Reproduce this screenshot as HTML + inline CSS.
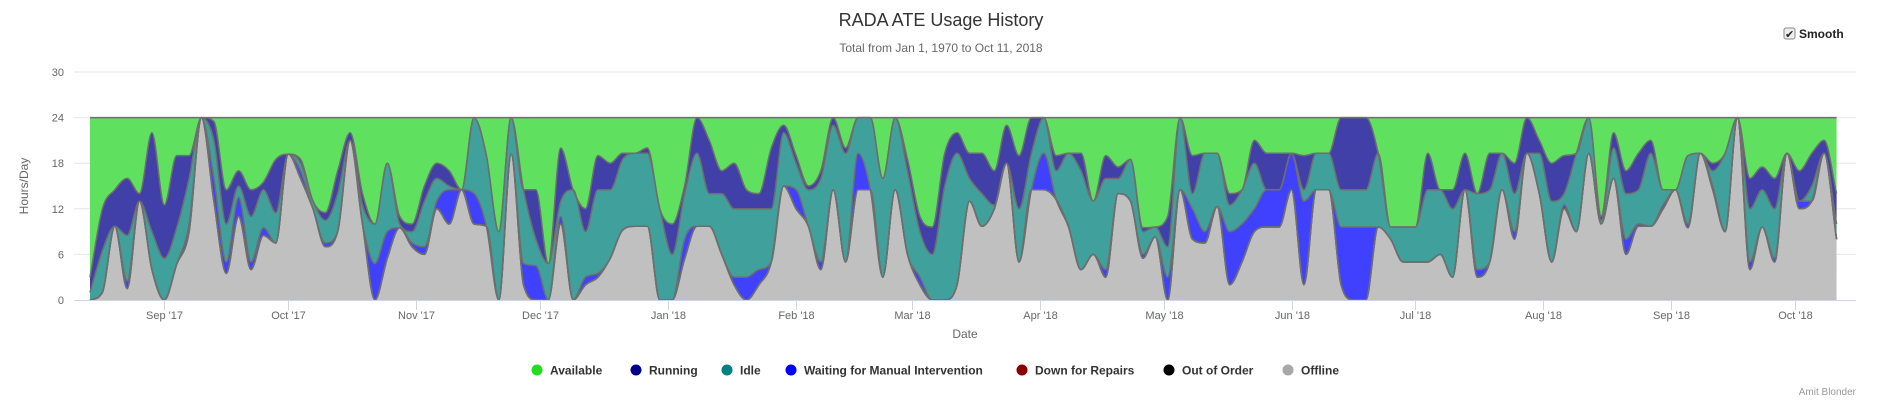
<!DOCTYPE html>
<html><head><meta charset="utf-8"><style>
html,body{margin:0;padding:0;background:#fff;}
body{width:1882px;height:408px;overflow:hidden;font-family:"Liberation Sans",sans-serif;}
</style></head><body>
<svg id="chart" width="1882" height="408" xmlns="http://www.w3.org/2000/svg" font-family="Liberation Sans, sans-serif">
<text x="941" y="26" text-anchor="middle" font-size="18" fill="#333">RADA ATE Usage History</text>
<text x="941" y="52" text-anchor="middle" font-size="12" fill="#666">Total from Jan 1, 1970 to Oct 11, 2018</text>
<g>
<rect x="1784" y="28" width="11" height="11" rx="2" fill="#eee" stroke="#888"/>
<text x="1785" y="38" font-size="11" fill="#222">✔</text>
<text x="1799" y="38" font-size="12" font-weight="bold" fill="#222">Smooth</text>
</g>
<g id="grid"></g>
<g id="areas"></g>
<g id="axes"></g>
<g id="legend"></g>
<text x="1856" y="395" text-anchor="end" font-size="10" fill="#999">Amit Blonder</text>
</svg>
<script>
const startDate = new Date(2017, 7, 14);
const stepDays = 3;
const offline = [0,1,9.7,1.5,13,4,0,4.7,9,24,13,3.5,11,4,8.5,7.5,19.2,16,12,7,9,21,10,0,5.5,9.5,7,6,12,10,14.5,10,9.7,0,19.2,2,0,0,10,0,2,3,5.5,9.2,9.7,9.7,0,0,5.4,9.7,9.7,6,2,0,2,5,15,12,9.7,4,14.5,5,14.5,14.5,3,14.5,6,2,0,0,2,13,9.7,12,18,5,14.5,14.5,13.2,9.6,4,6,3,14,13,5.5,8.3,0,14.5,8,7.5,12.3,2,5,9,9.6,9.6,14.5,2,14.5,14.5,2,0,0,9.6,8,5,5,5,6,3,14.5,3,5,14.5,8,19.3,14,5,12,9,19.3,10,16,6,9.7,9.7,12,14.5,9.5,19.3,14.5,9,24,4,9.6,5,19.3,12,13,19.3,8];
const outOfOrder = offline.map(()=>0);
const downForRepairs = offline.map(()=>0);
const waiting = [0,0,0,1,0,0,0,0,1,0,3,1.5,2.5,1,1,0,0,1,0,0.5,0,0,0,4.8,3.5,0,0.5,1,1,4.5,0,4,0,0,0,2.8,4.5,0,1,0,1,0.5,0,0,0,0,0,0,2.6,0,0,0,1,3,2,0,0,2.5,0,1,0,0,4.8,0,0,0,0,1,0,0,0,0,0,0,0,0,0,4.8,0,0,0,0,1,0,0,0.5,0,3,0,4,1.5,0,7,5,3,4.9,4.9,4.8,11,0,0,7.6,9.6,9.6,0,0,0,0,0,0,0,0,1,0,0,1,0,0,0,0.5,0,0,0,0,2,0.3,0,0.5,0,0.5,0,0.5,0,0,1,0,0.5,0,1,0,0,0];
const idle = [1,5.5,0,6,0,5,5.5,4.8,6,0,5,5,1.5,6,5,4,0,1,1,3,5,0,2.5,5.2,9,0.5,1.5,6,3,0.5,0,10,9.3,9,4.8,9.7,3.5,4.8,2,14.5,6,11,9,9.3,9.6,9.6,12,6,6,9.6,4.3,8,9,9,8,7,7,3.5,4.8,11,8.5,14.3,4.7,9.5,13,9.5,11,6,6,15,17.3,3,4.3,0.5,0,7,4.8,4.7,3.8,9.7,13,7,12,2,5.5,3,1.3,4,9.5,2,10.3,7,3.5,4.5,6,0,0,0,1.5,4.8,4.8,4.9,4.9,4.9,9.7,1.6,4.6,4.6,9.5,8.5,9,0,10,9.5,4.8,5,0,5.3,8,1.5,10.3,4.7,0.5,4,6,4.5,9.6,2,0,9,0,2,10.3,0,7,4.9,6.5,0,0,2,0,2];
const running = [2,5.5,4.8,7.5,1,13,7,9.5,3,0,2.5,4.5,2,3.5,1,7,0,0.5,0,1,3,1,1.5,0,0,1,1,2,2,2,0,0,0,0,0,0,6.5,0,7,0,3,4.5,3.5,0.8,0,0.7,0,4,1,4.7,7,3,6,2.5,2,8,1,1,0.5,1,1,0.7,0,0,0,0,1.5,2,3.6,4.3,2.7,3.3,5.3,4.5,5,7,4.7,0,2,0,2.3,0,3,1.5,0,0.5,0,4,0,5,0,0,1.5,0,3,4.8,4.8,0,4.5,0,0,9.5,9.5,9.5,0,0,0,0,4.8,0,2.5,4.8,0,4.8,0,4,4.7,1.7,5,5,0,0,0.5,2,3,4.8,1.7,0,0,0,0,1,0,0,4,3,4,0,4,4.3,1.7,4];
const totalHours = 24;
const yTicks = [0,6,12,18,24,30];
const monthLabels = ["Sep '17","Oct '17","Nov '17","Dec '17","Jan '18","Feb '18","Mar '18","Apr '18","May '18","Jun '18","Jul '18","Aug '18","Sep '18","Oct '18"];
const monthDates = [[2017,8],[2017,9],[2017,10],[2017,11],[2018,0],[2018,1],[2018,2],[2018,3],[2018,4],[2018,5],[2018,6],[2018,7],[2018,8],[2018,9]];

const NS="http://www.w3.org/2000/svg";
const PX0=90, PPD=4.129, Y0=300, PPH=7.6, GX0=74, GX1=1856;
function xOfDay(d){return PX0+d*PPD;}
function xOfDate(dt){return xOfDay((dt-startDate)/86400000);}
function y(v){return Y0-v*PPH;}
function mk(tag,attrs,parent){const e=document.createElementNS(NS,tag);for(const k in attrs)e.setAttribute(k,attrs[k]);parent.appendChild(e);return e;}

const grid=document.getElementById('grid'), axes=document.getElementById('axes'), areas=document.getElementById('areas'), legend=document.getElementById('legend');
yTicks.forEach(t=>{
  if(t>0){const l=mk('line',{x1:GX0,x2:GX1,y1:y(t),y2:y(t),stroke:'#e6e6e6','stroke-width':1},grid);
  
  }
  const tx=mk('text',{x:64,y:y(t)+4,'text-anchor':'end','font-size':11,fill:'#666'},axes);
  tx.textContent=t;
  
  
});
const yTitle=mk('text',{x:28,y:186,'text-anchor':'middle','font-size':12,fill:'#666',transform:'rotate(-90 28 186)'},axes);
yTitle.textContent='Hours/Day';



const xs=offline.map((_,i)=>xOfDay(i*stepDays));
const series=[
 {name:'offline',vals:offline,fill:'#c0c0c0'},
 {name:'out-of-order',vals:outOfOrder,fill:'#404040'},
 {name:'down-for-repairs',vals:downForRepairs,fill:'#a04040'},
 {name:'waiting',vals:waiting,fill:'#4040ff'},
 {name:'idle',vals:idle,fill:'#40a09c'},
 {name:'running',vals:running,fill:'#4040a8'},
 {name:'available',vals:offline.map((_,i)=>Math.max(0,totalHours-offline[i]-waiting[i]-idle[i]-running[i])),fill:'#5fe05f'}
];
function monotone(px,py){
  const n=px.length,d=[],m=[];
  for(let i=0;i<n-1;i++)d.push((py[i+1]-py[i])/(px[i+1]-px[i]));
  m[0]=d[0];m[n-1]=d[n-2];
  for(let i=1;i<n-1;i++){m[i]=(d[i-1]*d[i]<=0)?0:(d[i-1]+d[i])/2;}
  for(let i=0;i<n-1;i++){if(d[i]===0){m[i]=0;m[i+1]=0;continue;}const a=m[i]/d[i],b=m[i+1]/d[i],s=a*a+b*b;if(s>9){const t=3/Math.sqrt(s);m[i]=t*a*d[i];m[i+1]=t*b*d[i];}}
  let p='';
  for(let i=0;i<n-1;i++){const h=(px[i+1]-px[i])/3;
    p+=` C${(px[i]+h).toFixed(1)},${(py[i]+m[i]*h).toFixed(1)} ${(px[i+1]-h).toFixed(1)},${(py[i+1]-m[i+1]*h).toFixed(1)} ${px[i+1].toFixed(1)},${py[i+1].toFixed(1)}`;}
  return p;
}
let cum=offline.map(()=>0);
const tops=[];
series.forEach(s=>{
  const lower=cum.slice(); cum=cum.map((c,i)=>c+s.vals[i]);
  const upY=cum.map(v=>y(v)), loY=lower.map(v=>y(v));
  const rx=xs.slice().reverse(), rloY=loY.slice().reverse();
  const d=`M${xs[0]},${upY[0]}`+monotone(xs,upY)+` L${rx[0]},${rloY[0]}`+monotone(rx,rloY)+'Z';
  const p=mk('path',{d:d,fill:s.fill,stroke:'none'},areas);
  
  
  tops.push({name:s.name,upY:upY});
});
tops.forEach(t=>{
  const l=mk('path',{d:`M${xs[0]},${t.upY[0]}`+monotone(xs,t.upY),fill:'none',stroke:'#6e6e6e','stroke-width':1.5},areas);
  
  
});
const ax=mk('line',{x1:GX0,x2:GX1,y1:Y0+0.5,y2:Y0+0.5,stroke:'#ccd6eb','stroke-width':1},axes);


monthLabels.forEach((lab,i)=>{
  const xx=Math.round(xOfDate(new Date(monthDates[i][0],monthDates[i][1],1)))+0.5;
  const tk=mk('line',{x1:xx,x2:xx,y1:Y0,y2:Y0+10,stroke:'#ccd6eb','stroke-width':1},axes);
  
  
  const tx=mk('text',{x:xx,y:Y0+19,'text-anchor':'middle','font-size':11,fill:'#666'},axes);
  tx.textContent=lab;
  
  
});
const xTitle=mk('text',{x:965,y:338,'text-anchor':'middle','font-size':12,fill:'#666'},axes);
xTitle.textContent='Date';



const legendNames=['Available','Running','Idle','Waiting for Manual Intervention','Down for Repairs','Out of Order','Offline'];
const legendColors=['#22dd22','#000088','#008080','#0000ff','#880000','#000000','#a8a8a8'];
const legendX=[537,636,727,791,1022,1169,1288];
legendNames.forEach((n,i)=>{
  const g=mk('g',{},legend);
  
  
  const c=mk('circle',{cx:legendX[i],cy:370,r:5.5,fill:legendColors[i]},g);
  
  
  const t=mk('text',{x:legendX[i]+13,y:374.5,'font-size':12,'font-weight':'bold',fill:'#333'},g);
  t.textContent=n;
  
  
});
</script>
</body></html>
